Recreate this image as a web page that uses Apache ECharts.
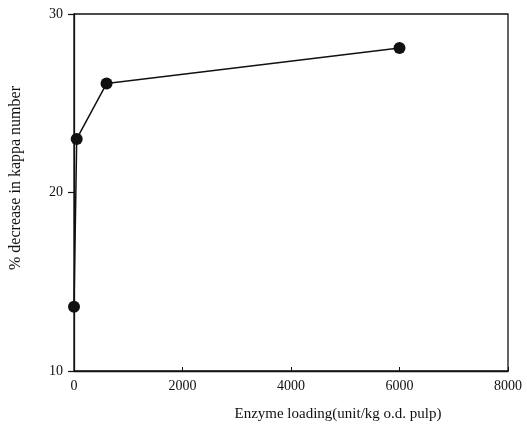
<!DOCTYPE html>
<html lang="en">
<head>
    <meta charset="UTF-8">
    <title>Enzyme loading</title>
    <script src="https://cdn.jsdelivr.net/npm/echarts@6/dist/echarts.min.js"></script>
</head>
<body style="margin:0">
<style>
    html, body { width: 527px; height: 431px; background: #fff; }
    #main { width: 527px; height: 431px; }
</style>
<div id="main"></div>
<script type="text/javascript">
    // enzyme loading (unit/kg o.d. pulp) and % decrease in kappa number
    var loading = [0, 50, 600, 6000]
    var kappaDecrease = [13.6, 23.0, 26.1, 28.1]
    var xTicks = [0, 2000, 4000, 6000, 8000]
    var yTicks = [10, 20, 30]

    var font = '"Liberation Serif", "DejaVu Serif", serif'
    var ink = '#111'

    var option = {
        backgroundColor: '#fff',
        animation: false,
        grid: {
            left: 74, right: 19, top: 14, bottom: 60,
            containLabel: false, outerBoundsMode: 'none',
            show: true, borderColor: ink, borderWidth: 1.3, backgroundColor: 'transparent'
        },
        xAxis: {
            type: 'value',
            min: xTicks[0], max: xTicks[xTicks.length - 1], interval: 2000,
            name: 'Enzyme loading(unit/kg o.d. pulp)',
            nameLocation: 'middle', nameGap: 36,
            nameTextStyle: { fontFamily: font, fontSize: 15, color: ink, padding: [0, 0, 0, 94] },
            axisLine: { lineStyle: { color: ink, width: 1.3 } },
            axisTick: { inside: true, length: 4, lineStyle: { color: ink } },
            axisLabel: { fontFamily: font, fontSize: 14, color: ink, margin: 8, formatter: v => String(v) },
            splitLine: { show: false }
        },
        yAxis: {
            type: 'value',
            min: yTicks[0], max: yTicks[yTicks.length - 1], interval: 10,
            name: '% decrease in kappa number',
            nameLocation: 'middle', nameGap: 50, nameRotate: 90,
            nameTextStyle: { fontFamily: font, fontSize: 16, color: ink, padding: [0, 0, 0, 29] },
            axisLine: { lineStyle: { color: ink, width: 1.3 } },
            axisTick: { length: 6, lineStyle: { color: ink, width: 1.2 } },
            axisLabel: { fontFamily: font, fontSize: 14, color: ink, margin: 11 },
            splitLine: { show: false }
        },
        series: [{
            type: 'line',
            data: loading.map((x, i) => [x, kappaDecrease[i]]),
            symbol: 'circle',
            symbolSize: 12,
            itemStyle: { color: ink },
            lineStyle: { color: ink, width: 1.5 }
        }]
    };
    var myChart = echarts.init(document.getElementById('main'));
    myChart.setOption(option);
</script>
</body>
</html>
